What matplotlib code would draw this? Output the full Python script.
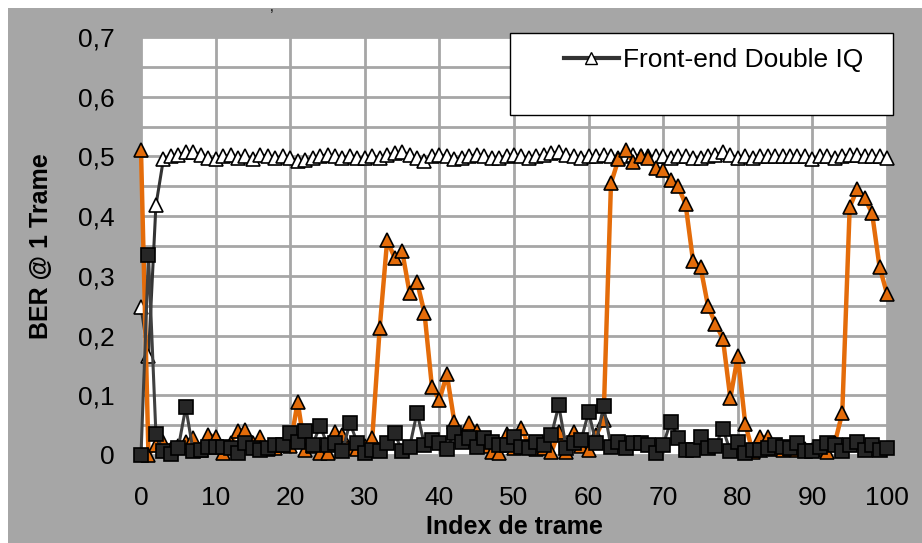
import matplotlib
matplotlib.use('Agg')
import matplotlib.pyplot as plt
from matplotlib.lines import Line2D
from matplotlib.patches import Rectangle
from matplotlib.ticker import FuncFormatter, MultipleLocator

plt.rcParams['font.family'] = ['Liberation Sans', 'DejaVu Sans']

# frame index 0..100
idx = list(range(101))

double_iq = [0.248, 0.165, 0.418, 0.495, 0.500, 0.503, 0.507, 0.508, 0.503, 0.497,
             0.495, 0.500, 0.502, 0.498, 0.500, 0.495, 0.503, 0.500, 0.497, 0.500,
             0.498, 0.492, 0.494, 0.497, 0.500, 0.503, 0.500, 0.498, 0.500, 0.497,
             0.497, 0.500, 0.498, 0.503, 0.505, 0.508, 0.503, 0.497, 0.492, 0.500,
             0.503, 0.500, 0.495, 0.498, 0.500, 0.503, 0.500, 0.497, 0.498, 0.500,
             0.503, 0.500, 0.497, 0.500, 0.503, 0.505, 0.508, 0.503, 0.500, 0.498,
             0.500, 0.500, 0.503, 0.500, 0.497, 0.500, 0.503, 0.500, 0.500, 0.500,
             0.500, 0.497, 0.500, 0.500, 0.498, 0.497, 0.500, 0.503, 0.507, 0.503,
             0.497, 0.500, 0.497, 0.500, 0.500, 0.500, 0.500, 0.500, 0.500, 0.500,
             0.495, 0.500, 0.500, 0.497, 0.500, 0.503, 0.503, 0.500, 0.500, 0.500,
             0.497]

single_iq = [0.510, 0.000, 0.017, 0.022, 0.010, 0.015, 0.022, 0.028, 0.008, 0.034,
             0.030, 0.003, 0.020, 0.040, 0.042, 0.020, 0.030, 0.010, 0.012, 0.017,
             0.015, 0.089, 0.008, 0.015, 0.003, 0.003, 0.039, 0.034, 0.012, 0.010,
             0.015, 0.028, 0.213, 0.360, 0.330, 0.342, 0.272, 0.290, 0.238, 0.114,
             0.092, 0.135, 0.056, 0.030, 0.054, 0.040, 0.015, 0.005, 0.004, 0.035,
             0.012, 0.045, 0.015, 0.010, 0.012, 0.005, 0.038, 0.005, 0.038, 0.015,
             0.008, 0.033, 0.058, 0.455, 0.495, 0.510, 0.490, 0.500, 0.497, 0.480,
             0.477, 0.460, 0.450, 0.420, 0.325, 0.315, 0.250, 0.220, 0.195, 0.095,
             0.166, 0.052, 0.005, 0.030, 0.030, 0.010, 0.008, 0.010, 0.008, 0.010,
             0.008, 0.010, 0.005, 0.020, 0.070, 0.415, 0.445, 0.430, 0.405, 0.315,
             0.270]

no_iq = [0.000, 0.335, 0.035, 0.006, 0.002, 0.012, 0.080, 0.006, 0.008, 0.014,
         0.014, 0.014, 0.012, 0.003, 0.020, 0.012, 0.008, 0.012, 0.017, 0.017,
         0.037, 0.022, 0.040, 0.017, 0.049, 0.017, 0.020, 0.006, 0.054, 0.020,
         0.003, 0.008, 0.006, 0.020, 0.037, 0.006, 0.013, 0.071, 0.017, 0.025,
         0.020, 0.010, 0.037, 0.022, 0.028, 0.014, 0.028, 0.022, 0.017, 0.017,
         0.030, 0.014, 0.012, 0.022, 0.017, 0.033, 0.083, 0.012, 0.020, 0.025,
         0.072, 0.020, 0.082, 0.014, 0.022, 0.012, 0.020, 0.020, 0.017, 0.003,
         0.017, 0.056, 0.028, 0.008, 0.008, 0.030, 0.012, 0.015, 0.044, 0.006,
         0.022, 0.003, 0.008, 0.008, 0.012, 0.017, 0.013, 0.012, 0.020, 0.006,
         0.006, 0.014, 0.020, 0.017, 0.006, 0.017, 0.022, 0.008, 0.017, 0.008,
         0.012]

grey = '#a6a6a6'
orange = '#e46c0a'

fig = plt.figure(figsize=(9.22, 5.43), dpi=100, facecolor='white')
fig.patches.append(Rectangle((8 / 922, 0), 1, (543 - 8) / 543, transform=fig.transFigure,
                             facecolor=grey, edgecolor='none', zorder=-5))
ax = fig.add_axes([141 / 922, (543 - 455) / 543, 746 / 922, 418 / 543])
ax.set_zorder(1)
ax.set_facecolor('white')

ax.plot(idx, double_iq, color='#333333', lw=2.2, marker='^', ms=10.5, mfc='white',
        mec='black', mew=1.2, zorder=3, clip_on=False)
ax.plot(idx, single_iq, color=orange, lw=3.2, marker='^', ms=10.5, mfc=orange,
        mec='black', mew=1.2, zorder=4, clip_on=False)
ax.plot(idx, no_iq, color='#404040', lw=2.2, marker='s', ms=10.5, mfc='#262626',
        mec='black', mew=1.2, zorder=5, clip_on=False)

ax.set_xlim(0, 100)
ax.set_ylim(0, 0.7)
ax.xaxis.set_major_locator(MultipleLocator(10))
ax.yaxis.set_major_locator(MultipleLocator(0.1))
ax.yaxis.set_minor_locator(MultipleLocator(0.05))
ax.yaxis.set_major_formatter(FuncFormatter(lambda v, p: '0' if abs(v) < 1e-9 else ('%.1f' % v).replace('.', ',')))
ax.grid(True, which='major', color=grey, lw=2)
ax.grid(True, which='minor', axis='y', color=grey, lw=2)
ax.set_axisbelow(True)
for s in ax.spines.values():
    s.set_visible(False)
ax.tick_params(axis='x', length=0, pad=22, labelsize=19)
ax.tick_params(axis='y', which='both', length=5, color=grey, pad=14, labelsize=19)

ax.set_xlabel('Index de trame', fontsize=18, fontweight='bold', labelpad=4)
ax.set_ylabel('BER @ 1 Trame', fontsize=18, fontweight='bold', labelpad=18)

# legend box
legend_box = Rectangle((510 / 922, (543 - 115) / 543), 383 / 922, 82 / 543,
                       transform=fig.transFigure, facecolor='white',
                       edgecolor='black', lw=1)
legend_box.set_zorder(6)
fig.add_artist(legend_box)
handle = Line2D([], [], color='#333333', lw=3, marker='^', ms=8, mfc='white', mec='black')
leg = fig.legend([handle], ['Front-end Double IQ'], loc='center left',
                 bbox_to_anchor=(540 / 922, (543 - 60) / 543), frameon=False,
                 fontsize=19, handlelength=2.1, handletextpad=0.15)
leg.set_zorder(7)

fig.text(270 / 922, 1.0, ',', fontsize=10, va='top')

plt.savefig('out.png', dpi=100)
